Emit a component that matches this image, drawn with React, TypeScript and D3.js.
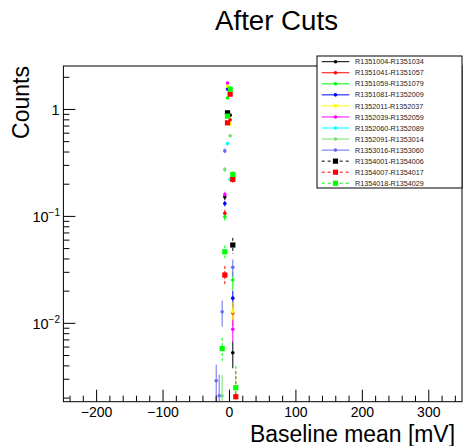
import React from 'react';
import * as d3 from 'd3';

const W = 469;
const H = 446;

const seriesNames = [
  'R1351004-R1351034',
  'R1351041-R1351057',
  'R1351059-R1351079',
  'R1351081-R1352009',
  'R1352011-R1352037',
  'R1352039-R1352059',
  'R1352060-R1352089',
  'R1352091-R1353014',
  'R1353016-R1353060',
  'R1354001-R1354006',
  'R1354007-R1354017',
  'R1354018-R1354029',
];
const seriesColors = [
  '#000000', '#ff0000', '#00ff00', '#0000ff', '#ffff00', '#ff00ff',
  '#00ffff', '#77dd77', '#6a6aee', '#000000', '#ff0000', '#00ff00',
];
const seriesDashed = [false, false, false, false, false, false, false, false, false, true, true, true];

// per-series values: bin centre [mV], counts, error
const s1X = [1, -7, 5];
const s1Y = [0.885, 0.152, 0.0053];
const s1E = [0.02, 0.01, 0.0015];
const s2X = [1, -7, 5];
const s2Y = [0.8, 0.107, 0.0125];
const s2E = [0.02, 0.008, 0.003];
const s3X = [-3, -7, 5];
const s3Y = [1.28, 0.099, 0.0254];
const s3E = [0.03, 0.008, 0.005];
const s4X = [-3, -7, 5];
const s4Y = [1.55, 0.132, 0.0172];
const s4E = [0.03, 0.008, 0.003];
const s5X = [-3, 1, 5];
const s5Y = [1.65, 0.73, 0.0128];
const s5E = [0.03, 0.02, 0.003];
const s6X = [-3, -7, 5];
const s6Y = [1.77, 0.16, 0.0088];
const s6E = [0.03, 0.01, 0.002];
const s7X = [-3, 1];
const s7Y = [0.48, 0.222];
const s7E = [0.02, 0.01];
const s8X = [1, -7, -11];
const s8Y = [0.567, 0.275, 0.0021];
const s8E = [0.02, 0.015, 0.0012];
const s9X = [-7, 5, -11, -20, -15.5];
const s9Y = [0.41, 0.0334, 0.0128, 0.0029, 0.0021];
const s9E = [0.02, 0.006, 0.0035, 0.0012, 0.0012];
const s10X = [-3, 5];
const s10Y = [0.93, 0.054];
const s10E = [0.03, 0.009];
const s11X = [1, -3, 5, -7, 9.5];
const s11Y = [1.39, 0.75, 0.222, 0.0283, 0.00206];
const s11E = [0.04, 0.03, 0.015, 0.006, 0.0015];
const s12X = [1, -3, 5, -7, 9.5, -11];
const s12Y = [1.55, 0.866, 0.247, 0.0467, 0.0025, 0.0058];
const s12E = [0.04, 0.03, 0.015, 0.007, 0.0015, 0.0015];

const allX = [s1X, s2X, s3X, s4X, s5X, s6X, s7X, s8X, s9X, s10X, s11X, s12X];
const allY = [s1Y, s2Y, s3Y, s4Y, s5Y, s6Y, s7Y, s8Y, s9Y, s10Y, s11Y, s12Y];
const allE = [s1E, s2E, s3E, s4E, s5E, s6E, s7E, s8E, s9E, s10E, s11E, s12E];

const xDomain = [-250, 350];
const yDomain = [0.00185, 2.55];
const xMajorTicks = [-200, -100, 0, 100, 200, 300];
const xTickLabels = ['\u2212200', '\u2212100', '0', '100', '200', '300'];
const yMajorTicks = [0.01, 0.1, 1];

const title = 'After Cuts';
const xTitle = 'Baseline mean [mV]';
const yTitle = 'Counts';

const L = 63.4, R = 462, T = 66, B = 401.7;
const FONT = "'Liberation Sans', Arial, sans-serif";

export default function App() {
  const x = d3.scaleLinear().domain(xDomain).range([L, R]);
  const y = d3.scaleLog().domain(yDomain).range([B, T]);

  const xMinor = d3.range(-240, 350, 20).filter((v) => v % 100 !== 0);
  const yMinor: number[] = [];
  [0.001, 0.01, 0.1, 1].forEach((d) => {
    for (let m = 2; m <= 9; m++) {
      const v = d * m;
      if (v >= yDomain[0] && v <= yDomain[1]) yMinor.push(v);
    }
  });

  const legX = 317, legY = 56, legW = 145, legH = 132;
  const rowY = (i: number) => 61.7 + i * 11.05;

  const marker = (i: number, cx: number, cy: number, key: string) => {
    const c = seriesColors[i];
    if (seriesDashed[i]) {
      return <rect key={key} x={cx - 2.6} y={cy - 2.6} width={5.2} height={5.2} fill={c} />;
    }
    return <circle key={key} cx={cx} cy={cy} r={1.8} fill={c} />;
  };

  return (
    <svg width={W} height={H} style={{ position: 'absolute', left: 0, top: 0, background: '#fff' }}>
      <defs>
        <clipPath id="plotclip">
          <rect x={L} y={T} width={R - L} height={B - T} />
        </clipPath>
      </defs>
      <rect x={0} y={0} width={W} height={H} fill="#fff" />
      {/* title */}
      <text x={276.5} y={29.5} textAnchor="middle" fontFamily={FONT} fontSize={27}
        textLength={123} lengthAdjust="spacingAndGlyphs" fill="#000">{title}</text>

      {/* data */}
      <g clipPath="url(#plotclip)">
        {allX.map((xs, i) =>
          xs.map((xv, j) => {
            const v = allY[i][j];
            const e = allE[i][j];
            const lo = Math.max(v - e, 1e-5);
            return (
              <line key={`e${i}-${j}`} x1={x(xv)} x2={x(xv)} y1={y(v + e)} y2={y(lo)}
                stroke={seriesColors[i]} strokeWidth={1}
                strokeDasharray={seriesDashed[i] ? '3,2' : undefined} />
            );
          })
        )}
        {allX.map((xs, i) => xs.map((xv, j) => marker(i, x(xv), y(allY[i][j]), `m${i}-${j}`)))}
      </g>

      {/* frame */}
      <rect x={L} y={T} width={R - L} height={B - T} fill="none" stroke="#000" strokeWidth={1} />

      {/* x ticks */}
      {xMajorTicks.map((v) => (
        <line key={`xM${v}`} x1={x(v)} x2={x(v)} y1={B} y2={B - 12} stroke="#000" />
      ))}
      {xMinor.map((v) => (
        <line key={`xm${v}`} x1={x(v)} x2={x(v)} y1={B} y2={B - 6} stroke="#000" />
      ))}
      {xMajorTicks.map((v, i) => (
        <text key={`xl${v}`} x={x(v)} y={417} textAnchor="middle" fontFamily={FONT} fontSize={14} fill="#000">
          {xTickLabels[i]}
        </text>
      ))}

      {/* y ticks */}
      {yMajorTicks.map((v) => (
        <line key={`yM${v}`} x1={L} x2={L + 12} y1={y(v)} y2={y(v)} stroke="#000" />
      ))}
      {yMinor.map((v) => (
        <line key={`ym${v}`} x1={L} x2={L + 6} y1={y(v)} y2={y(v)} stroke="#000" />
      ))}
      {yMajorTicks.map((v) => {
        const exp = Math.round(Math.log10(v));
        if (exp === 0) {
          return (
            <text key={`yl${v}`} x={59.5} y={y(v) + 5.5} textAnchor="end" fontFamily={FONT} fontSize={14.5} fill="#000">1</text>
          );
        }
        return (
          <text key={`yl${v}`} x={60} y={y(v) + 6} textAnchor="end" fontFamily={FONT} fontSize={14.5} fill="#000">
            10<tspan dy={-6.5} fontSize={10}>{'\u2212' + Math.abs(exp)}</tspan>
          </text>
        );
      })}

      {/* axis titles */}
      <text x={455} y={441.5} textAnchor="end" fontFamily={FONT} fontSize={23}
        textLength={205} lengthAdjust="spacingAndGlyphs" fill="#000">{xTitle}</text>
      <text transform={`translate(29,${T}) rotate(-90)`} textAnchor="end" fontFamily={FONT} fontSize={23} fill="#000">
        {yTitle}
      </text>

      {/* legend */}
      <rect x={legX} y={legY} width={legW} height={legH} fill="#fff" stroke="#000" strokeWidth={1} />
      {seriesNames.map((n, i) => {
        const ry = rowY(i);
        return (
          <g key={`lg${i}`}>
            <line x1={321.7} x2={349.3} y1={ry} y2={ry} stroke={seriesColors[i]} strokeWidth={1}
              strokeDasharray={seriesDashed[i] ? '3,3' : undefined} />
            {marker(i, 335.5, ry, `lm${i}`)}
            <text x={355} y={ry + 2.6} fontFamily={FONT} fontSize={7.2} fill="#222">{n}</text>
          </g>
        );
      })}
    </svg>
  );
}
